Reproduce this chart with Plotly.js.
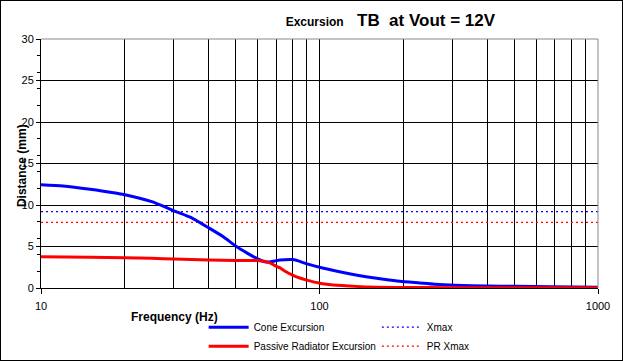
<!DOCTYPE html>
<html>
<head>
<meta charset="utf-8">
<script src="https://cdn.plot.ly/plotly-3.0.1.min.js"></script>
<style>
  html, body { margin: 0; padding: 0; background: #fff; }
  #chart { width: 621px; height: 359px; border: 1px solid #000; }
</style>
</head>
<body>
<div id="chart"></div>
<script>
// ---- Data ----
const coneFreq = [10, 12, 15, 20, 25, 30, 35, 40, 45, 50, 55, 60, 63, 66, 70, 75, 80, 85, 90, 100, 118, 128, 147, 170, 194, 229, 259, 306, 400, 500, 680, 1000];
const coneExc  = [12.45, 12.3, 11.9, 11.24, 10.4, 9.3, 8.4, 7.25, 6.2, 5.06, 4.2, 3.5, 3.2, 3.12, 3.3, 3.4, 3.42, 3.2, 2.9, 2.5, 1.96, 1.72, 1.36, 1.05, 0.8, 0.6, 0.45, 0.33, 0.24, 0.2, 0.16, 0.1];

const prFreq = [10, 15, 20, 25, 30, 40, 50, 60, 62, 65, 68, 70, 72, 75, 80, 85, 90, 100, 110, 128, 150, 200, 300, 1000];
const prExc  = [3.77, 3.7, 3.65, 3.57, 3.5, 3.37, 3.32, 3.3, 3.25, 3.12, 2.85, 2.6, 2.45, 2.05, 1.55, 1.2, 0.95, 0.58, 0.4, 0.25, 0.12, 0.06, 0.04, 0.02];

const xmaxFreq = [10, 1000];
const xmaxVal  = [9.2, 9.2];
const prXmaxVal = [7.9, 7.9];

const xTickVals = [10, 100, 1000];
const xTickText = ['10', '100', '1000'];
const xMinorVals = [20, 30, 40, 50, 60, 70, 80, 90, 200, 300, 400, 500, 600, 700, 800, 900];
const yTickVals = [0, 5, 10, 15, 20, 25, 30];

const FONT = 'Liberation Sans, Arial, sans-serif';

const traces = [
  { x: xmaxFreq, y: xmaxVal, name: 'Xmax', mode: 'lines', legend: 'legend2', legendrank: 1,
    line: { color: '#0000ff', width: 1.3, dash: '2px,3px' } },
  { x: xmaxFreq, y: prXmaxVal, name: 'PR Xmax', mode: 'lines', legend: 'legend2', legendrank: 2,
    line: { color: '#ff0000', width: 1.3, dash: '2px,3px' } },
  { x: coneFreq, y: coneExc, name: 'Cone Excursion', mode: 'lines', legend: 'legend', legendrank: 1,
    line: { color: '#0000ff', width: 3, shape: 'spline', smoothing: 0.6 } },
  { x: prFreq, y: prExc, name: 'Passive Radiator Excursion', mode: 'lines', legend: 'legend', legendrank: 2,
    line: { color: '#ff0000', width: 3, shape: 'spline', smoothing: 0.6 } }
];

const legendCommon = {
  orientation: 'v', xanchor: 'left', y: -0.099, yanchor: 'top',
  itemwidth: 40, traceorder: 'normal',
  font: { family: FONT, size: 10, color: '#000' },
  bgcolor: 'rgba(0,0,0,0)', tracegroupgap: 0
};

const layout = {
  width: 621, height: 359,
  margin: { l: 40, r: 24, t: 38, b: 72, autoexpand: false },
  paper_bgcolor: '#ffffff', plot_bgcolor: '#ffffff',
  font: { family: FONT, size: 11, color: '#000' },
  title: {
    text: '<b>Excursion</b>    <span style="font-size:17px"><b>TB  at Vout = 12V</b></span>',
    font: { family: FONT, size: 12, color: '#000' },
    xref: 'container', x: 0.627, xanchor: 'center',
    yref: 'container', y: 0.943, yanchor: 'middle'
  },
  xaxis: {
    type: 'log', range: [1, 3],
    tickmode: 'array', tickvals: xTickVals, ticktext: xTickText,
    ticks: 'outside', ticklen: 5, tickcolor: '#000', ticklabelstandoff: 3,
    showline: true, linecolor: '#000', linewidth: 1,
    showgrid: true, gridcolor: '#000', gridwidth: 1,
    zeroline: false,
    tickfont: { family: FONT, size: 11, color: '#000' },
    minor: { tickmode: 'array', tickvals: xMinorVals, showgrid: true, gridcolor: '#000', gridwidth: 1, ticks: '' }
  },
  yaxis: {
    range: [0, 30],
    tickmode: 'array', tickvals: yTickVals,
    ticks: 'outside', ticklen: 4, tickcolor: '#000',
    showline: true, linecolor: '#000', linewidth: 1,
    showgrid: true, gridcolor: '#000', gridwidth: 1,
    zeroline: false,
    tickfont: { family: FONT, size: 11, color: '#000' },
    minor: { tick0: 0, dtick: 2, ticks: 'outside', ticklen: 3, tickcolor: '#000', showgrid: false }
  },
  showlegend: true,
  legend: Object.assign({}, legendCommon, { x: 0.292 }),
  legend2: Object.assign({}, legendCommon, { x: 0.603 }),
  annotations: [
    { text: '<b>Distance (mm)</b>', textangle: -90, xref: 'paper', yref: 'paper',
      x: -0.034, y: 0.49, xanchor: 'center', yanchor: 'middle', showarrow: false,
      font: { family: FONT, size: 12, color: '#000' } },
    { text: '<b>Frequency (Hz)</b>', xref: 'paper', yref: 'paper',
      x: 0.158, y: -0.1165, xanchor: 'left', yanchor: 'middle', showarrow: false,
      font: { family: FONT, size: 12, color: '#000' } }
  ],
  shapes: [
    { type: 'line', xref: 'paper', yref: 'paper', x0: 0, x1: 1, y0: 1, y1: 1,
      line: { color: '#888888', width: 1 }, layer: 'above' },
    { type: 'line', xref: 'paper', yref: 'paper', x0: 1, x1: 1, y0: 0, y1: 1,
      line: { color: '#888888', width: 1 }, layer: 'above' }
  ]
};

Plotly.newPlot('chart', traces, layout, { displayModeBar: false, staticPlot: true });
</script>
</body>
</html>
